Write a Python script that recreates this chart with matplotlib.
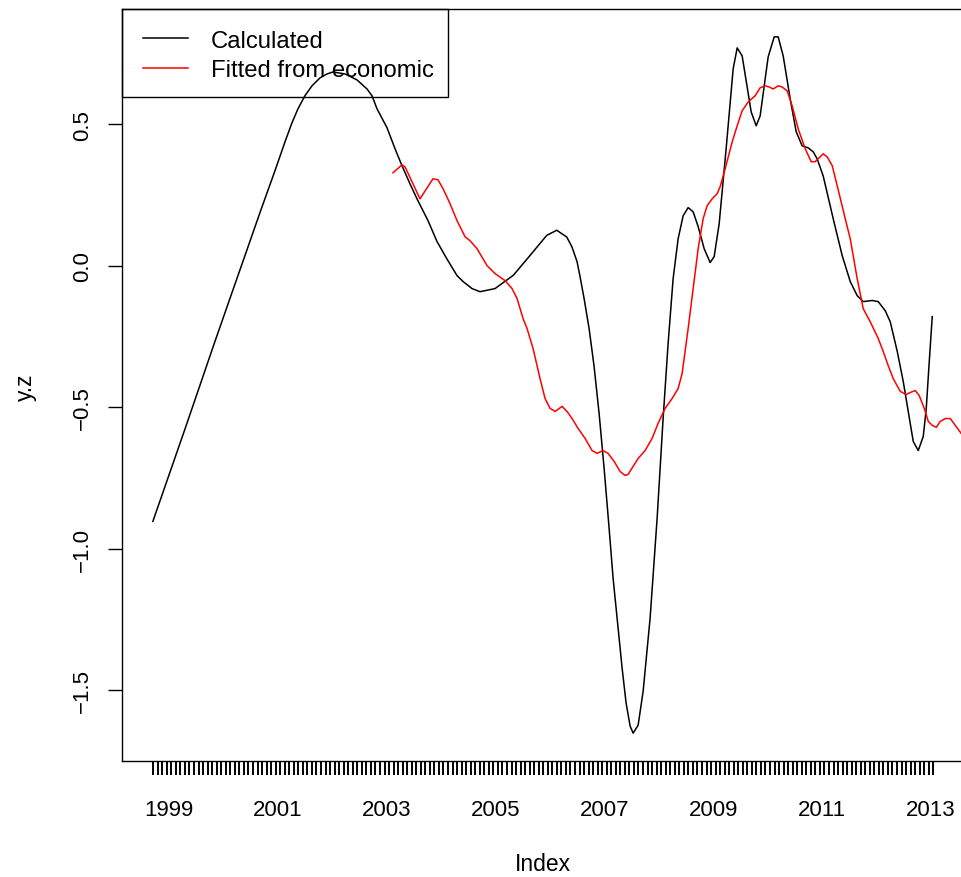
import matplotlib
matplotlib.use("Agg")
import matplotlib.pyplot as plt
from matplotlib.lines import Line2D
from matplotlib.patches import Rectangle
import numpy as np

plt.rcParams['font.family'] = ['Liberation Sans', 'DejaVu Sans']

# Calculated series (decimal year, value)
calc_t = [1998.702, 1999.015, 1999.290, 1999.566, 1999.842, 2000.118, 2000.393,
          2000.669, 2000.945, 2001.129, 2001.257, 2001.368, 2001.496, 2001.625,
          2001.772, 2001.901, 2002.011, 2002.232, 2002.452, 2002.636, 2002.728,
          2002.820, 2003.004, 2003.151, 2003.279, 2003.426, 2003.555, 2003.757,
          2003.923, 2004.101, 2004.290, 2004.406, 2004.566, 2004.713, 2004.989,
          2005.325, 2005.632, 2005.939, 2006.123, 2006.307, 2006.400, 2006.496,
          2006.551, 2006.625, 2006.717, 2006.809, 2006.901, 2006.993, 2007.085,
          2007.158, 2007.250, 2007.324, 2007.397, 2007.471, 2007.526, 2007.618,
          2007.710, 2007.838, 2007.967, 2008.077, 2008.169, 2008.261, 2008.353,
          2008.445, 2008.537, 2008.629, 2008.721, 2008.831, 2008.941, 2009.015,
          2009.107, 2009.235, 2009.364, 2009.438, 2009.529, 2009.695, 2009.787,
          2009.860, 2010.007, 2010.118, 2010.191, 2010.283, 2010.412, 2010.522,
          2010.632, 2010.743, 2010.835, 2010.908, 2011.018, 2011.202, 2011.368,
          2011.515, 2011.643, 2011.754, 2011.919, 2012.029, 2012.158, 2012.250,
          2012.379, 2012.489, 2012.581, 2012.673, 2012.765, 2012.857, 2012.912,
          2012.967, 2013.022]
calc_v = [-0.903, -0.730, -0.578, -0.423, -0.268, -0.116, 0.035,
          0.187, 0.335, 0.437, 0.504, 0.554, 0.600, 0.635,
          0.663, 0.677, 0.684, 0.677, 0.656, 0.624, 0.600,
          0.554, 0.487, 0.413, 0.353, 0.289, 0.236, 0.159,
          0.085, 0.025, -0.035, -0.057, -0.081, -0.092, -0.081,
          -0.034, 0.036, 0.107, 0.125, 0.101, 0.067, 0.014,
          -0.039, -0.116, -0.222, -0.356, -0.522, -0.716, -0.928,
          -1.104, -1.280, -1.422, -1.545, -1.626, -1.651, -1.623,
          -1.503, -1.245, -0.892, -0.540, -0.275, -0.046, 0.095,
          0.176, 0.205, 0.190, 0.138, 0.060, 0.011, 0.032,
          0.148, 0.413, 0.695, 0.769, 0.741, 0.543, 0.494,
          0.529, 0.737, 0.808, 0.808, 0.741, 0.589, 0.473,
          0.423, 0.416, 0.402, 0.377, 0.317, 0.166, 0.035,
          -0.056, -0.106, -0.127, -0.123, -0.127, -0.159, -0.198,
          -0.303, -0.409, -0.515, -0.621, -0.653, -0.603, -0.504,
          -0.339, -0.180]

# Fitted-from-economic series (decimal year, value)
fit_t = [2003.114, 2003.279, 2003.335, 2003.610, 2003.849, 2003.941, 2004.033,
         2004.162, 2004.290, 2004.438, 2004.529, 2004.658, 2004.713, 2004.842,
         2004.989, 2005.173, 2005.301, 2005.393, 2005.504, 2005.577, 2005.688,
         2005.816, 2005.908, 2006.000, 2006.092, 2006.221, 2006.312, 2006.404,
         2006.515, 2006.643, 2006.772, 2006.864, 2006.974, 2007.066, 2007.176,
         2007.287, 2007.379, 2007.434, 2007.526, 2007.618, 2007.746, 2007.875,
         2007.985, 2008.114, 2008.243, 2008.353, 2008.426, 2008.537, 2008.629,
         2008.721, 2008.813, 2008.886, 2008.978, 2009.070, 2009.125, 2009.217,
         2009.346, 2009.438, 2009.529, 2009.640, 2009.768, 2009.860, 2009.952,
         2010.026, 2010.099, 2010.191, 2010.265, 2010.357, 2010.449, 2010.559,
         2010.688, 2010.798, 2010.871, 2010.945, 2011.018, 2011.092, 2011.184,
         2011.276, 2011.423, 2011.515, 2011.643, 2011.754, 2011.882, 2012.029,
         2012.121, 2012.213, 2012.305, 2012.434, 2012.544, 2012.618, 2012.710,
         2012.783, 2012.875, 2012.949, 2013.022, 2013.096, 2013.169, 2013.261,
         2013.353, 2013.445, 2013.555]
fit_v = [0.328, 0.356, 0.349, 0.236, 0.307, 0.303, 0.272,
         0.219, 0.159, 0.102, 0.088, 0.060, 0.042, 0.000,
         -0.028, -0.053, -0.081, -0.116, -0.187, -0.222, -0.293,
         -0.399, -0.469, -0.504, -0.515, -0.497, -0.515, -0.540,
         -0.575, -0.610, -0.653, -0.663, -0.653, -0.663, -0.691,
         -0.727, -0.741, -0.737, -0.709, -0.681, -0.653, -0.610,
         -0.557, -0.504, -0.469, -0.434, -0.381, -0.222, -0.081,
         0.060, 0.166, 0.212, 0.236, 0.254, 0.279, 0.342,
         0.437, 0.494, 0.547, 0.578, 0.600, 0.628, 0.635,
         0.631, 0.624, 0.635, 0.631, 0.617, 0.564, 0.483,
         0.413, 0.367, 0.367, 0.381, 0.395, 0.384, 0.353,
         0.282, 0.166, 0.095, -0.046, -0.152, -0.198, -0.257,
         -0.303, -0.353, -0.399, -0.444, -0.455, -0.448, -0.441,
         -0.459, -0.504, -0.550, -0.564, -0.571, -0.550, -0.540,
         -0.540, -0.564, -0.593]

# Monthly index of the calculated series and axis labels
month_start = 1998.708
n_months = 173
year_labels = [1999, 2001, 2003, 2005, 2007, 2009, 2011, 2013]
y_ticks = [-1.5, -1.0, -0.5, 0.0, 0.5]
legend_labels = ["Calculated", "Fitted from economic"]
series_colors = ["black", "red"]

W, H = 961, 878
fig = plt.figure(figsize=(W / 100, H / 100), dpi=100)


def fx(px):
    return px / W


def fy(py):
    return 1 - py / H


ax = fig.add_axes([fx(122), fy(762), (964.5 - 122) / W, (762 - 10) / H])

ax.plot(calc_t, calc_v, color=series_colors[0], lw=1.1)
ax.plot(fit_t, fit_v, color=series_colors[1], lw=1.1)

# R-style 4% axis extension
months = month_start + np.arange(n_months) / 12.0
x0, x1 = months[0], months[-1]
xr = x1 - x0
ax.set_xlim(x0 - 0.04 * xr, x1 + 0.04 * xr)
y0, y1 = min(calc_v), max(calc_v)
yr = y1 - y0
ax.set_ylim(y0 - 0.04 * yr, y1 + 0.04 * yr)

tick_len = 14 / 1.389
ax.set_xticks(year_labels)
ax.set_xticklabels([str(y) for y in year_labels], fontsize=16)
ax.set_xticks(months, minor=True)
ax.tick_params(axis='x', which='major', length=0, pad=27.4)
ax.tick_params(axis='x', which='minor', length=tick_len, width=1.4, color='black')

ax.set_yticks(y_ticks)
ax.set_yticklabels([f"{v:.1f}".replace("-", "\u2212") for v in y_ticks], fontsize=16)
ax.tick_params(axis='y', which='major', length=tick_len, width=1.0, pad=11, labelrotation=90)
for lbl in ax.get_yticklabels():
    lbl.set_va('center')

for sp in ax.spines.values():
    sp.set_linewidth(1.0)

fig.text(fx(543), fy(865), "Index", fontsize=16.5, ha='center', va='center')
fig.text(fx(25), fy(387), "y.z", fontsize=16.5, ha='center', va='center', rotation=90)

# Legend box (transparent) in the top-left corner of the plot region
fig.add_artist(Rectangle((fx(122), fy(97.5)), (448 - 122) / W, (97.5 - 10) / H,
                         transform=fig.transFigure, facecolor='none',
                         edgecolor='black', lw=1.0, zorder=5))
for i, (lab, col) in enumerate(zip(legend_labels, series_colors)):
    yc = 39.3 + 29.5 * i
    fig.add_artist(Line2D([fx(143.3), fx(188.3)], [fy(yc), fy(yc)],
                          transform=fig.transFigure, color=col, lw=1.1, zorder=6))
    fig.text(fx(210.7), fy(yc + 8.3), lab, fontsize=17.2, ha='left', va='baseline', zorder=6)

fig.savefig("out.png", dpi=100)
